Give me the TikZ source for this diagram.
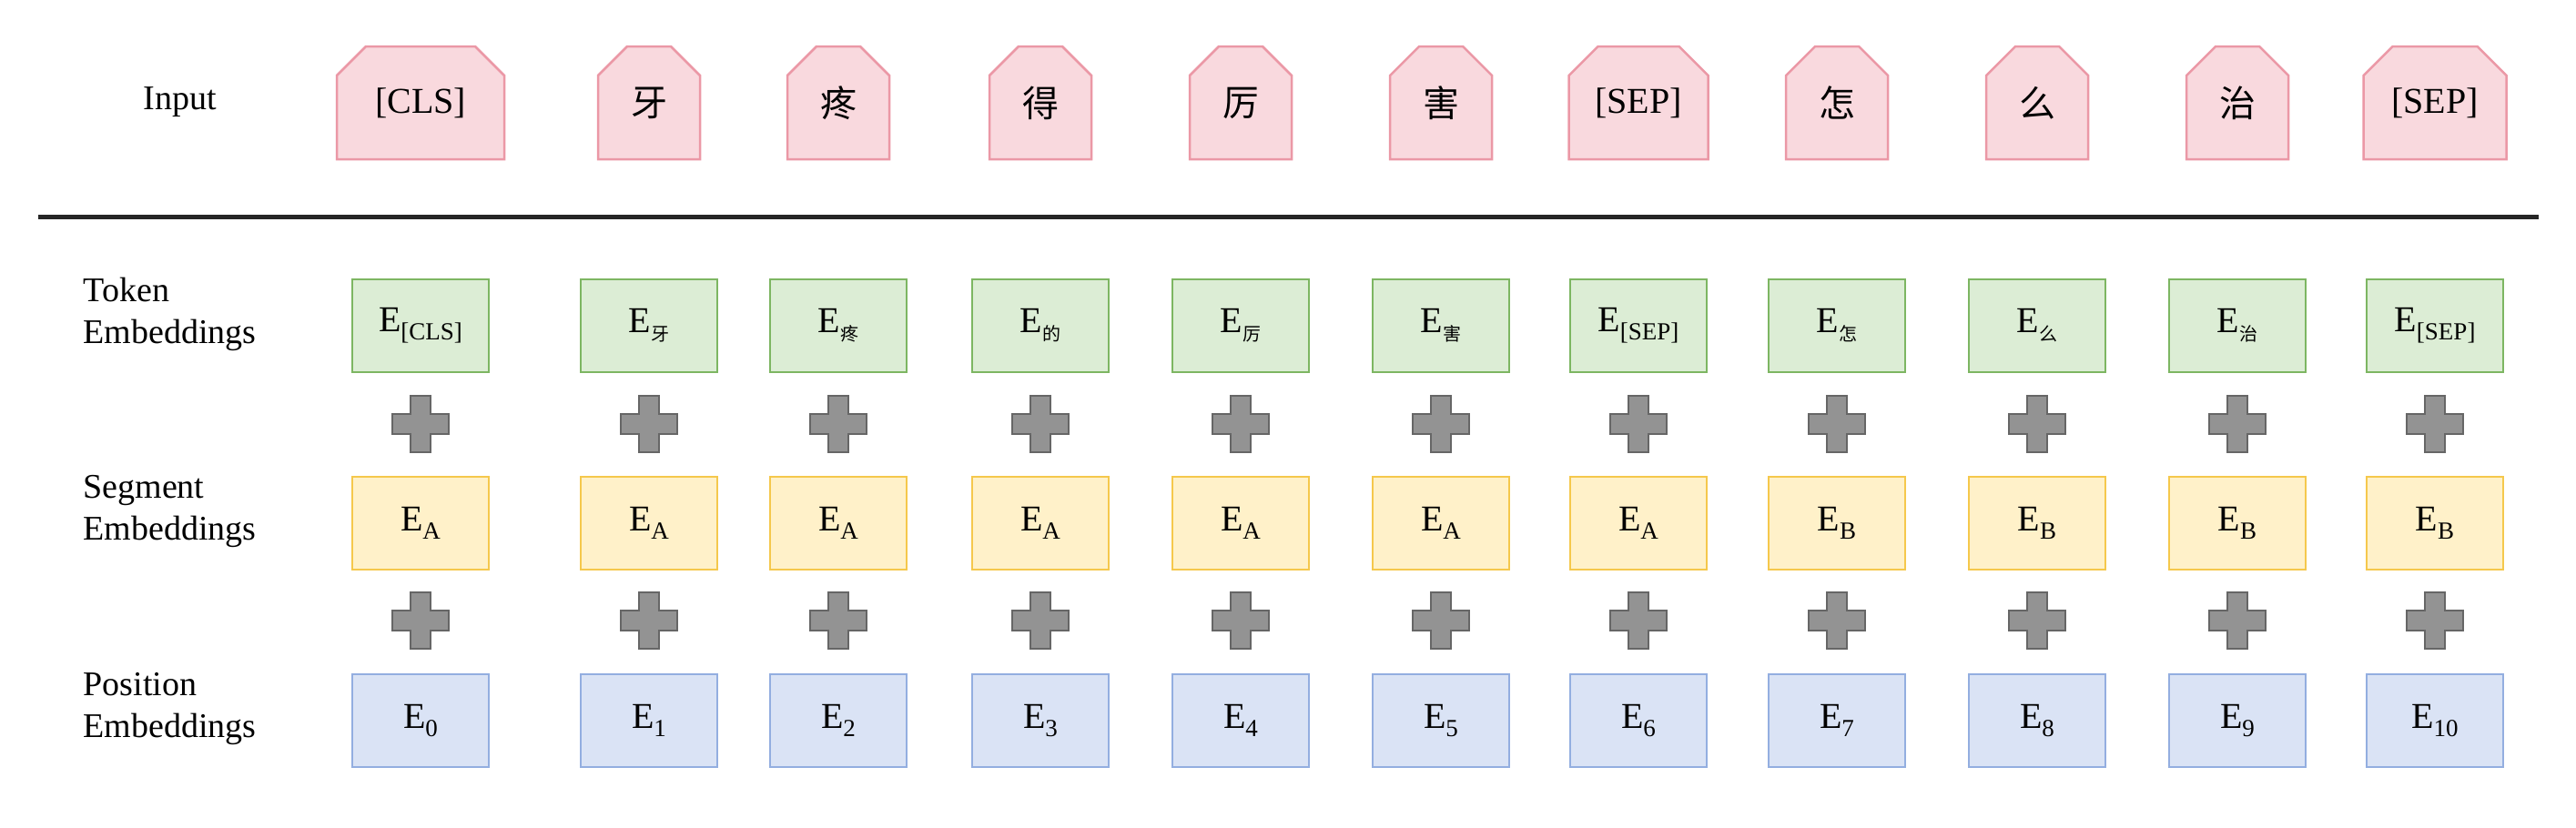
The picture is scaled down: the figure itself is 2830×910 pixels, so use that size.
\documentclass[tikz,border=0pt]{standalone}
\usepackage{fontspec}
\setmainfont{Liberation Serif}
\newfontfamily\cjk{Noto Sans CJK SC}
\usetikzlibrary{shapes.misc}
\definecolor{pinkF}{HTML}{F9D9DE}\definecolor{pinkD}{HTML}{EB98A6}
\definecolor{grnF}{HTML}{DCEDD5}\definecolor{grnD}{HTML}{7DB662}
\definecolor{ylwF}{HTML}{FFF1C9}\definecolor{ylwD}{HTML}{F5C84C}
\definecolor{bluF}{HTML}{DAE3F5}\definecolor{bluD}{HTML}{93AEE0}
\tikzset{
 inbox/.style={chamfered rectangle,chamfered rectangle corners={north west,north east},chamfered rectangle xsep=16pt,chamfered rectangle ysep=16pt,fill=pinkF,draw=pinkD,line width=2.5pt,minimum height=124pt,font=\fontsize{40}{44}\selectfont,inner sep=0pt},
 ebox/.style={rectangle,line width=2.5pt,minimum width=150pt,minimum height=102pt,font=\fontsize{40}{44}\selectfont,inner sep=0pt},
 tokbox/.style={ebox,fill=grnF,draw=grnD},
 segbox/.style={ebox,fill=ylwF,draw=ylwD},
 posbox/.style={ebox,fill=bluF,draw=bluD},
 lbl/.style={font=\fontsize{38}{46}\selectfont,align=left,anchor=west},
 plusshape/.style={fill=gray!85,draw=black!60,line width=2pt}
}
\newcommand{\sbx}[1]{\raisebox{-9pt}{\fontsize{27}{27}\selectfont #1}}
\newcommand{\cs}[1]{\raisebox{-9pt}{\cjk\fontsize{20}{20}\selectfont #1}}
\begin{document}
\begin{tikzpicture}[x=1pt,y=-1pt]
\useasboundingbox (0,0) rectangle (2830,910);
\node[anchor=center,font=\fontsize{38}{46}\selectfont] (lin) at (198,112) {Input};
\node[lbl] (ltok) at (88,345) {Token\\Embeddings};
\node[lbl] (lseg) at (88,562) {Segment\\Embeddings};
\node[lbl] (lpos) at (88,779) {Position\\Embeddings};
\draw[line width=5pt,black!85] (42,238) -- (2789,238);
\foreach \i/\x/\w/\t/\s/\g/\n in {
 0/462/184/{[CLS]}/{\sbx{[CLS]}}/A/0,
 1/713/112/{\cjk 牙}/{\cs{牙}}/A/1,
 2/921/112/{\cjk 疼}/{\cs{疼}}/A/2,
 3/1143/112/{\cjk 得}/{\cs{的}}/A/3,
 4/1363/112/{\cjk 厉}/{\cs{厉}}/A/4,
 5/1583/112/{\cjk 害}/{\cs{害}}/A/5,
 6/1800/153/{[SEP]}/{\sbx{[SEP]}}/A/6,
 7/2018/112/{\cjk 怎}/{\cs{怎}}/B/7,
 8/2238/112/{\cjk 么}/{\cs{么}}/B/8,
 9/2458/112/{\cjk 治}/{\cs{治}}/B/9,
 10/2675/157/{[SEP]}/{\sbx{[SEP]}}/B/10}{
 \node[inbox,minimum width=\w pt] (in\i) at (\x,113) {\t};
 \node[tokbox] (t\i) at (\x,358) {E\s};
 \node[segbox] (s\i) at (\x,575) {E\sbx{\g}};
 \node[posbox] (p\i) at (\x,792) {E\sbx{\n}};
 \foreach \yy/\nm in {466/a,682/b}{
  \coordinate (pl\nm\i) at (\x,\yy);
  \draw[plusshape] ([shift={(-11,-31)}]pl\nm\i) -- ++(22,0) -- ++(0,20) -- ++(20,0) -- ++(0,22) -- ++(-20,0) -- ++(0,20) -- ++(-22,0) -- ++(0,-20) -- ++(-20,0) -- ++(0,-22) -- ++(20,0) -- cycle;
 }
}
\end{tikzpicture}
\end{document}
